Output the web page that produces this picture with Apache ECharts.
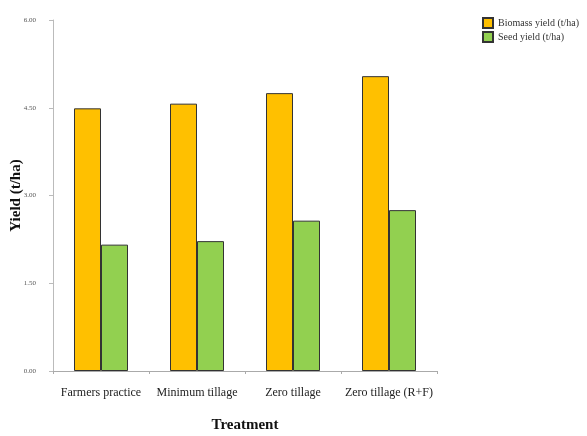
<!DOCTYPE html>
<html><head><meta charset="utf-8">
<script src="https://cdn.jsdelivr.net/npm/echarts@6/dist/echarts.min.js"></script>
<style>html,body{margin:0;padding:0;background:#fff}#c{width:587px;height:436px}</style>
</head><body><div id="c"></div>
<script>
const categories = ['Farmers practice', 'Minimum tillage', 'Zero tillage', 'Zero tillage (R+F)'];
const biomassYield = [4.49, 4.57, 4.75, 5.04];
const seedYield = [2.16, 2.22, 2.57, 2.75];
const seriesNames = ['Biomass yield (t/ha)', 'Seed yield (t/ha)'];

const chart = echarts.init(document.getElementById('c'));
const serif = '"Liberation Serif", "Times New Roman", serif';
chart.setOption({
  animation: false,
  textStyle: { fontFamily: serif },
  grid: { left: 53, right: 150, top: 20, bottom: 65, containLabel: false, outerBoundsMode: 'none' },
  legend: {
    orient: 'vertical', left: 477, top: 12, itemWidth: 10, itemHeight: 10, itemGap: 2,
    textStyle: { fontFamily: serif, fontSize: 10, color: '#333' },
    data: seriesNames.map(n => ({ name: n, icon: 'rect' }))
  },
  xAxis: {
    type: 'category', data: categories,
    name: 'Treatment', nameLocation: 'middle', nameGap: 47, nameMoveOverlap: false,
    nameTextStyle: { fontFamily: serif, fontSize: 15, fontWeight: 'bold', color: '#111' },
    axisLine: { lineStyle: { color: '#aaa' } },
    axisTick: { show: true, length: 3, lineStyle: { color: '#aaa' } },
    axisLabel: { fontFamily: serif, fontSize: 12, color: '#222', margin: 16, interval: 0, hideOverlap: false }
  },
  yAxis: {
    type: 'value', min: 0, max: 6, interval: 1.5,
    name: 'Yield (t/ha)', nameLocation: 'middle', nameGap: 29, nameMoveOverlap: false,
    nameTextStyle: { fontFamily: serif, fontSize: 15, fontWeight: 'bold', color: '#111' },
    axisLine: { show: true, lineStyle: { color: '#bbb' } },
    axisTick: { show: true, length: 4, lineStyle: { color: '#bbb' } },
    splitLine: { show: false },
    axisLabel: { fontFamily: serif, fontSize: 7, color: '#555', margin: 17, formatter: v => v.toFixed(2) }
  },
  series: [
    { name: seriesNames[0], type: 'bar', data: biomassYield, barWidth: 27, barGap: '0%',
      itemStyle: { color: '#FFC000', borderColor: '#333', borderWidth: 1 } },
    { name: seriesNames[1], type: 'bar', data: seedYield, barWidth: 27,
      itemStyle: { color: '#92D050', borderColor: '#333', borderWidth: 1 } }
  ]
});
</script></body></html>
